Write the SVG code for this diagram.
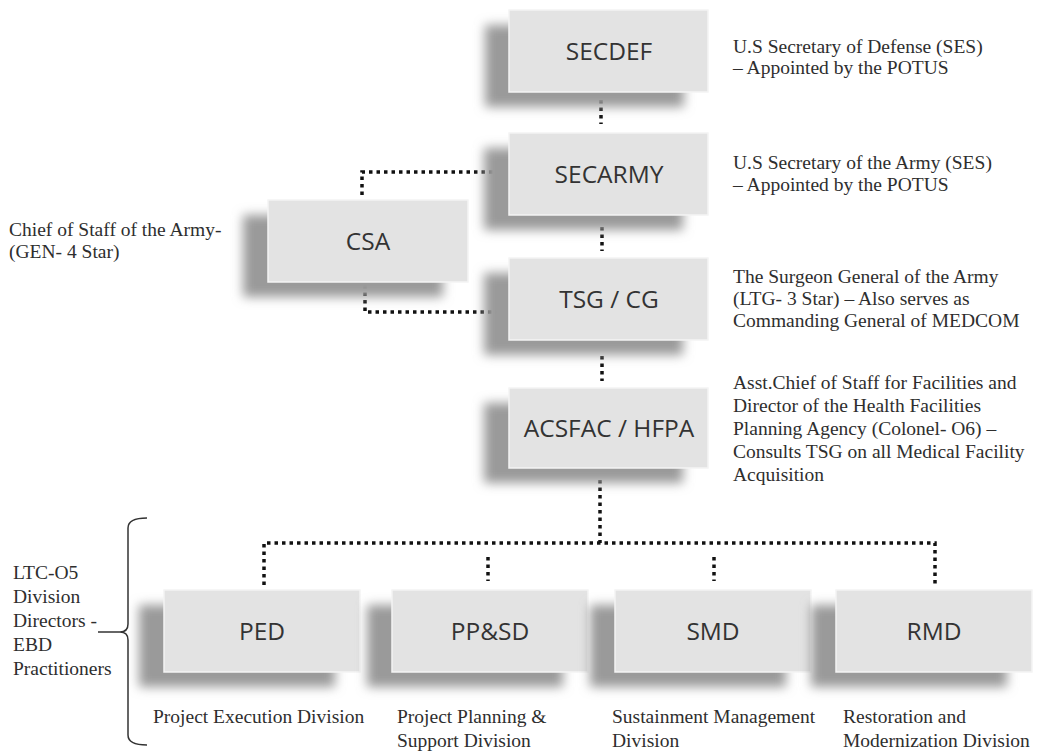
<svg xmlns="http://www.w3.org/2000/svg" width="1043" height="753" viewBox="0 0 1043 753">
<defs>
<filter id="sh" x="-20%" y="-40%" width="140%" height="180%"><feGaussianBlur stdDeviation="5.5"/></filter>
<style>
.box{fill:#e3e3e3;stroke:#f4f4f4;stroke-width:1.5}
.shadow{fill:#9a9a9a;filter:url(#sh)}
.lbl{font-family:"Open Sans","Liberation Sans",sans-serif;font-size:24.5px;fill:#333;text-anchor:middle}
.desc{font-family:"Liberation Serif","Times New Roman",serif;font-size:19.5px;fill:#2e2e2e}
.dot{fill:none;stroke:#111;stroke-width:3.5;stroke-dasharray:3.5 4}
.br{fill:none;stroke:#333;stroke-width:1.5}
</style>
</defs>
<rect width="1043" height="753" fill="#fff"/>

<g id="connectors">
<path class="dot" d="M601,100 V124"/>
<path class="dot" d="M602,227 V251"/>
<path class="dot" d="M602,356 V381"/>
<path class="dot" d="M500,172 H362 V197"/>
<path class="dot" d="M365,285 V312 H497"/>
<path class="dot" d="M600,480 V543"/>
<path class="dot" d="M264,585 V543 H935 V585"/>
<path class="dot" d="M488,557 V581"/>
<path class="dot" d="M714,557 V581"/>
</g>

<g id="node-secdef">
<rect class="shadow" x="485" y="25" width="199" height="82"/>
<rect class="box" x="509" y="10" width="199" height="82"/>
<text class="lbl" x="609" y="60">SECDEF</text>
</g>
<g id="node-secarmy">
<rect class="shadow" x="484" y="148" width="199" height="82"/>
<rect class="box" x="509" y="133" width="199" height="82"/>
<text class="lbl" x="609" y="183">SECARMY</text>
</g>
<g id="node-csa">
<rect class="shadow" x="243" y="215" width="200" height="82"/>
<rect class="box" x="268" y="200" width="200" height="82"/>
<text class="lbl" x="368" y="250">CSA</text>
</g>
<g id="node-tsg">
<rect class="shadow" x="484" y="273" width="199" height="82"/>
<rect class="box" x="509" y="258" width="199" height="82"/>
<text class="lbl" x="609" y="308">TSG / CG</text>
</g>
<g id="node-acsfac">
<rect class="shadow" x="484" y="403" width="199" height="80"/>
<rect class="box" x="509" y="388" width="199" height="80"/>
<text class="lbl" x="609" y="437">ACSFAC / HFPA</text>
</g>
<g id="node-ped">
<rect class="shadow" x="139" y="605" width="196" height="82"/>
<rect class="box" x="164" y="590" width="196" height="82"/>
<text class="lbl" x="262" y="640">PED</text>
</g>
<g id="node-ppsd">
<rect class="shadow" x="367" y="605" width="196" height="82"/>
<rect class="box" x="392" y="590" width="196" height="82"/>
<text class="lbl" x="490" y="640">PP&amp;SD</text>
</g>
<g id="node-smd">
<rect class="shadow" x="590" y="605" width="196" height="82"/>
<rect class="box" x="615" y="590" width="196" height="82"/>
<text class="lbl" x="713" y="640">SMD</text>
</g>
<g id="node-rmd">
<rect class="shadow" x="811" y="605" width="196" height="82"/>
<rect class="box" x="836" y="590" width="196" height="82"/>
<text class="lbl" x="934" y="640">RMD</text>
</g>

<g id="descriptions">
<text class="desc" x="733" y="53">U.S Secretary of Defense (SES)</text>
<text class="desc" x="733" y="74">– Appointed by the POTUS</text>
<text class="desc" x="733" y="169">U.S Secretary of the Army (SES)</text>
<text class="desc" x="733" y="191">– Appointed by the POTUS</text>
<text class="desc" x="733" y="283">The Surgeon General of the Army</text>
<text class="desc" x="733" y="305">(LTG- 3 Star) – Also serves as</text>
<text class="desc" x="733" y="327">Commanding General of MEDCOM</text>
<text class="desc" x="733" y="389">Asst.Chief of Staff for Facilities and</text>
<text class="desc" x="733" y="412">Director of the Health Facilities</text>
<text class="desc" x="733" y="435">Planning Agency (Colonel- O6) –</text>
<text class="desc" x="733" y="458">Consults TSG on all Medical Facility</text>
<text class="desc" x="733" y="481">Acquisition</text>
<text class="desc" x="9" y="236">Chief of Staff of the Army-</text>
<text class="desc" x="9" y="258">(GEN- 4 Star)</text>
<text class="desc" x="13" y="579">LTC-O5</text>
<text class="desc" x="13" y="603">Division</text>
<text class="desc" x="13" y="627">Directors -</text>
<text class="desc" x="13" y="651">EBD</text>
<text class="desc" x="13" y="675">Practitioners</text>
<text class="desc" x="153" y="723">Project Execution Division</text>
<text class="desc" x="397" y="723">Project Planning &amp;</text>
<text class="desc" x="397" y="747">Support Division</text>
<text class="desc" x="612" y="723">Sustainment Management</text>
<text class="desc" x="612" y="747">Division</text>
<text class="desc" x="843" y="723">Restoration and</text>
<text class="desc" x="843" y="747">Modernization Division</text>
</g>

<g id="bracket">
<path class="br" d="M147,518 Q128,518 128,528 V624 Q128,632 120,632 Q128,632 128,640 V735 Q128,745 147,745"/>
<path class="br" d="M98,632 H120"/>
</g>
</svg>
